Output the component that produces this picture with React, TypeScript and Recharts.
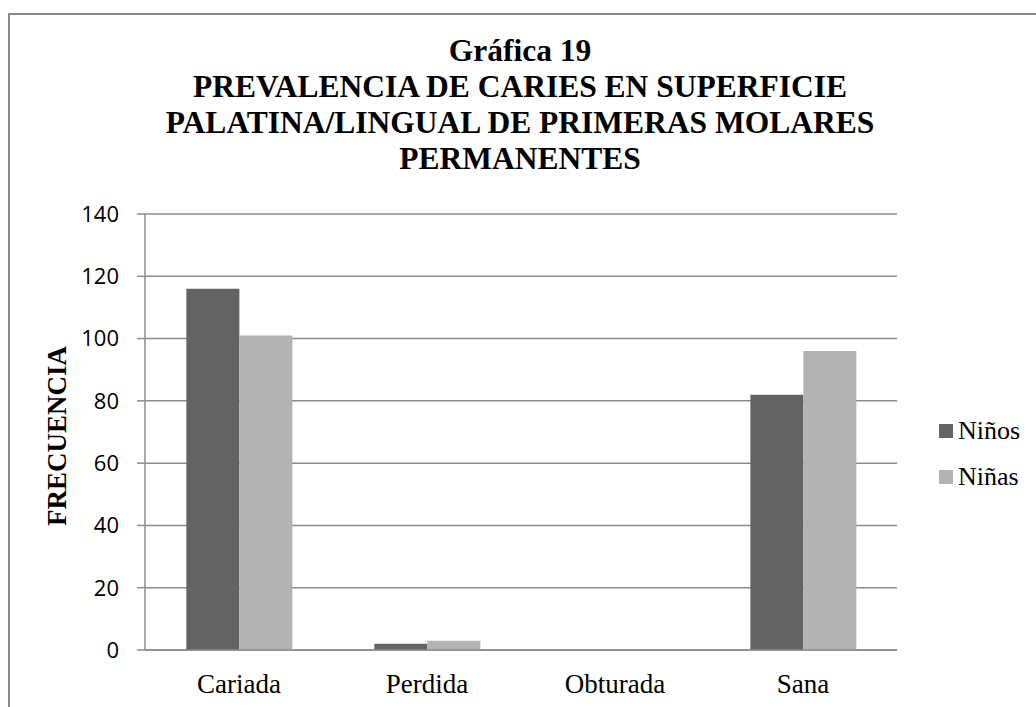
import React from "react";
import { BarChart, Bar, XAxis, YAxis, CartesianGrid } from "recharts";

const categories = ["Cariada", "Perdida", "Obturada", "Sana"];
const ninos = [116, 2, 0, 82];
const ninas = [101, 3, 0, 96];
const yTicks = [0, 20, 40, 60, 80, 100, 120, 140];
const titleLines = [
  "Gráfica 19",
  "PREVALENCIA DE CARIES EN SUPERFICIE",
  "PALATINA/LINGUAL DE PRIMERAS MOLARES",
  "PERMANENTES",
];
const series = [
  { key: "ninos", name: "Niños", color: "#636363" },
  { key: "ninas", name: "Niñas", color: "#b3b3b3" },
];

const data = categories.map((c, i) => ({ cat: c, ninos: ninos[i], ninas: ninas[i] }));

const serif = "'Liberation Serif', 'Times New Roman', serif";
const axisGray = "#8c8c8c";

export default function App() {
  return (
    <div style={{ position: "absolute", left: 0, top: 0, width: 1036, height: 707, overflow: "hidden", background: "#fff" }}>
      {/* outer frame, runs off the right and bottom edge */}
      <div
        style={{
          position: "absolute",
          left: 8,
          top: 13,
          width: 1100,
          height: 800,
          borderTop: "2px solid #8a8a8a",
          borderLeft: "2px solid #8a8a8a",
        }}
      />

      <BarChart
        width={1036}
        height={707}
        data={data}
        margin={{ top: 214, right: 139, left: 0, bottom: 0 }}
        barCategoryGap="22%"
        barGap={0}
        style={{ position: "absolute", left: 0, top: 0 }}
      >
        <CartesianGrid vertical={false} stroke={axisGray} strokeWidth={1.5} />
        <XAxis
          dataKey="cat"
          height={57}
          tickLine={false}
          tickSize={6}
          tickMargin={18}
          axisLine={{ stroke: axisGray, strokeWidth: 1.5 }}
          tick={{ fontFamily: serif, fontSize: 27, fill: "#000" }}
        />
        <YAxis
          width={145}
          domain={[0, 140]}
          ticks={yTicks}
          interval={0}
          tickSize={8}
          tickMargin={18}
          axisLine={{ stroke: axisGray, strokeWidth: 1.5 }}
          tickLine={{ stroke: axisGray, strokeWidth: 1.5 }}
          tick={{ fontFamily: "'Open Sans', sans-serif", fontSize: 22, fill: "#000" }}
        />
        {series.map((s) => (
          <Bar key={s.key} dataKey={s.key} name={s.name} fill={s.color} isAnimationActive={false} />
        ))}
      </BarChart>

      {/* title */}
      <div
        style={{
          position: "absolute",
          left: 0,
          width: 1040,
          top: 33,
          textAlign: "center",
          fontFamily: serif,
          fontWeight: "bold",
          fontSize: 31.5,
          lineHeight: "36px",
          color: "#000",
        }}
      >
        {titleLines.map((t) => (
          <div key={t}>{t}</div>
        ))}
      </div>

      {/* y axis title */}
      <div
        style={{
          position: "absolute",
          left: 57,
          top: 436,
          transform: "translate(-50%, -50%) rotate(-90deg)",
          fontFamily: serif,
          fontWeight: "bold",
          fontSize: 27,
          whiteSpace: "nowrap",
          color: "#000",
        }}
      >
        FRECUENCIA
      </div>

      {/* legend */}
      <div style={{ position: "absolute", left: 939, top: 408, fontFamily: serif, fontSize: 26, color: "#000" }}>
        {series.map((s) => (
          <div key={s.key} style={{ display: "flex", alignItems: "center", height: 46 }}>
            <span style={{ width: 14, height: 14, background: s.color, marginRight: 5, display: "inline-block" }} />
            <span>{s.name}</span>
          </div>
        ))}
      </div>
    </div>
  );
}
